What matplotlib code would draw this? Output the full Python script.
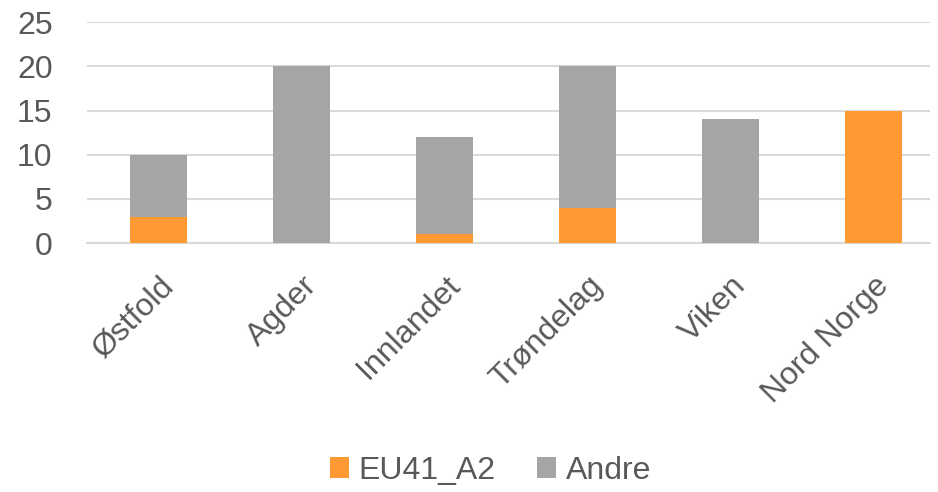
import matplotlib.pyplot as plt
import numpy as np

# data
regions = ["Østfold", "Agder", "Innlandet", "Trøndelag", "Viken", "Nord Norge"]
eu41_a2 = [3, 0, 1, 4, 0, 15]
andre = [7, 20, 11, 16, 14, 0]

plt.rcParams.update({
    "font.family": ["Liberation Sans", "DejaVu Sans"],
    "font.size": 23,
})

txt = "#595959"
grid = "#D9D9D9"

fig = plt.figure(figsize=(9.38, 4.92), dpi=100)
ax = fig.add_axes([0.093, 0.506, 0.898, 0.449])

x = np.arange(len(regions))
w = 0.40
ax.bar(x, eu41_a2, w, color="#FF9933", label="EU41_A2", zorder=3)
ax.bar(x, andre, w, bottom=eu41_a2, color="#A5A5A5", label="Andre", zorder=3)

ax.set_xlim(-0.5, 5.39)
ax.set_ylim(0, 25)
ax.set_yticks(range(0, 26, 5))
ax.yaxis.grid(True, color=grid, linewidth=1.5, zorder=0)
ax.set_axisbelow(True)

for s in ["top", "right", "left"]:
    ax.spines[s].set_visible(False)
ax.spines["bottom"].set_color(grid)
ax.spines["bottom"].set_linewidth(1.5)

ax.tick_params(axis="both", length=0, colors=txt, labelsize=23)
ax.tick_params(axis="y", pad=25)
ax.set_xticks(x)
ax.set_xticklabels(regions, rotation=45, ha="right", rotation_mode="anchor")
ax.tick_params(axis="x", pad=20)

fig.legend(loc="center", bbox_to_anchor=(0.523, 0.043), ncol=2, frameon=False,
           fontsize=23, labelcolor=txt, handlelength=0.6, handleheight=0.6,
           handletextpad=0.3, columnspacing=1.3)

fig.savefig("out.png", dpi=100)
